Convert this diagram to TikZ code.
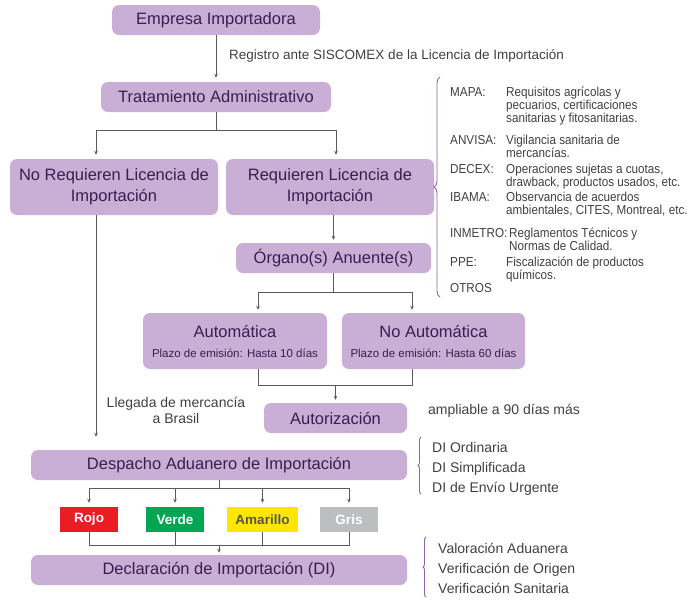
\documentclass[tikz,border=0pt]{standalone}
\usepackage{fontspec}
\setmainfont{Liberation Sans}
\newfontfamily\condf[FakeStretch=0.9]{Liberation Sans}
\usetikzlibrary{arrows.meta,decorations.pathreplacing,calc}
\definecolor{boxc}{RGB}{201,174,213}
\definecolor{boxt}{RGB}{58,30,78}
\definecolor{linec}{RGB}{90,90,90}
\definecolor{labt}{RGB}{64,64,64}
\definecolor{bracec}{RGB}{140,100,165}
\definecolor{rojo}{RGB}{237,28,36}
\definecolor{verde}{RGB}{0,166,81}
\definecolor{amar}{RGB}{255,230,0}
\definecolor{gris}{RGB}{188,190,192}
\definecolor{amart}{RGB}{85,85,85}
\tikzset{
 box/.style={rounded corners=7pt, fill=boxc, text=boxt, font=\fontsize{16.5}{21}\selectfont, align=center, inner sep=0pt},
 sem/.style={text=white, font=\fontsize{13.5}{16}\selectfont\bfseries, minimum width=58pt, minimum height=25pt, inner sep=0pt},
 ln/.style={draw=linec, line width=0.8pt},
 arr/.style={ln, -{Stealth[length=4pt,width=3.5pt]}},
 lab/.style={text=labt, font=\fontsize{13.5}{16}\selectfont, inner sep=0pt},
 side/.style={text=labt, font=\fontsize{14}{16}\selectfont, inner sep=0pt, anchor=base west},
 lst/.style={text=labt, font=\condf\fontsize{13}{13}\selectfont, inner sep=0pt, anchor=base west, align=left},
 brc/.style={draw=bracec, line width=0.9pt, decorate, decoration={brace, amplitude=6pt}},
 sbrc/.style={draw=bracec, line width=0.9pt, decorate, decoration={brace, amplitude=3pt}},
}
\begin{document}
\begin{tikzpicture}[x=1pt,y=-1pt]
\useasboundingbox (0,0) rectangle (699,600);
% main boxes
\node[box, minimum width=208pt, minimum height=30pt] (emp) at (216,20) {Empresa Importadora};
\node[box, minimum width=230pt, minimum height=30pt] (trat) at (216,97) {Tratamiento Administrativo};
\node[box, minimum width=208pt, minimum height=56pt] (noreq) at (114,187) {No Requieren Licencia de\\Importación};
\node[box, minimum width=208pt, minimum height=56pt] (req) at (330,187) {Requieren Licencia de\\Importación};
\node[box, minimum width=195pt, minimum height=30pt] (org) at (333.5,258) {Órgano(s) Anuente(s)};
\node[box, minimum width=184pt, minimum height=56pt] (auto) at (235,341) {Automática\\[-1pt]{\fontsize{11.5}{14}\selectfont Plazo de emisión: Hasta 10 días}};
\node[box, minimum width=183pt, minimum height=56pt] (noauto) at (433.5,341) {No Automática\\[-1pt]{\fontsize{11.5}{14}\selectfont Plazo de emisión: Hasta 60 días}};
\node[box, minimum width=143pt, minimum height=30pt] (autz) at (335.5,418) {Autorización};
\node[box, minimum width=376pt, minimum height=30pt] (desp) at (219,465) {Despacho Aduanero de Importación};
\node[box, minimum width=376pt, minimum height=30pt] (decl) at (219,570) {Declaración de Importación (DI)};
% semaphore boxes
\node[sem, fill=rojo] (rojo) at (89,519.5) {Rojo};
\node[sem, fill=verde] (verde) at (175,519.5) {Verde};
\node[sem, fill=amar, text=amart, minimum width=71pt] (amar) at (262.5,519.5) {Amarillo};
\node[sem, fill=gris] (gris) at (349,519.5) {Gris};
% connectors
\draw[arr, shorten >=4pt] (emp) -- (trat);
\coordinate (j1) at (216,130);
\draw[ln] (trat) -- (j1);
\draw[arr, shorten >=4pt] (j1) -| ([xshift=-18pt]noreq.north);
\draw[arr, shorten >=4pt] (j1) -| ([xshift=6pt]req.north);
\coordinate (nrb) at ([xshift=-18pt]noreq.south);
\draw[arr, shorten >=13pt] (nrb) -- (nrb |- desp.north);
\coordinate (rqb) at ([xshift=3.5pt]req.south);
\draw[arr, shorten >=3pt] (rqb) -- (rqb |- org.north);
\coordinate (j2) at (333.5,292);
\draw[ln] (org) -- (j2);
\draw[arr, shorten >=3pt] (j2) -| ([xshift=23pt]auto.north);
\draw[arr, shorten >=3pt] (j2) -| ([xshift=-21.5pt]noauto.north);
\coordinate (a1) at ([xshift=23pt]auto.south);
\coordinate (a2) at ([xshift=-21.5pt]noauto.south);
\draw[ln] (a1) -- ++(0,16) -| (a2);
\coordinate (j3) at (335.5,385);
\draw[arr, shorten >=3pt] (j3) -- (autz);
\coordinate (j4) at (219,488);
\draw[ln] (desp) -- (j4);
\draw[arr, shorten >=4pt] (j4) -| (rojo);
\draw[arr, shorten >=4pt] (j4) -| (verde);
\draw[arr, shorten >=4pt] (j4) -| (amar);
\draw[arr, shorten >=4pt] (j4) -| (gris);
\draw[ln] (rojo.south) -- ++(0,13) -| (gris.south);
\draw[ln] (verde.south) -- ++(0,13);
\draw[ln] (amar.south) -- ++(0,13);
\coordinate (j5) at (219,545);
\draw[arr, shorten >=2pt] (j5) -- (decl);
% labels
\node[lab, anchor=west] (reg) at (229,56) {Registro ante SISCOMEX de la Licencia de Importación};
\node[lab, align=center, font=\fontsize{14}{16}\selectfont] (lleg) at (176,410) {Llegada de mercancía\\a Brasil};
\node[lab, anchor=west, font=\fontsize{14}{16}\selectfont] (amp) at (428,411) {ampliable a 90 días más};
% big brace and list (base = baseline of last line)
\draw[brc] (440,297) -- (440,77);
\node[lst] (l1) at (450,96.5) {MAPA:};
\node[lst] (d1) at (506,122.5) {Requisitos agrícolas y\\pecuarios, certificaciones\\sanitarias y fitosanitarias.};
\node[lst] (l2) at (450,144) {ANVISA:};
\node[lst] (d2) at (506,157) {Vigilancia sanitaria de\\mercancías.};
\node[lst] (l3) at (450,173) {DECEX:};
\node[lst] (d3) at (506,186) {Operaciones sujetas a cuotas,\\drawback, productos usados, etc.};
\node[lst] (l4) at (450,201.5) {IBAMA:};
\node[lst] (d4) at (506,214.5) {Observancia de acuerdos\\ambientales, CITES, Montreal, etc.};
\node[lst] (l5) at (450,237.5) {INMETRO:};
\node[lst] (d5) at (509,250.5) {Reglamentos Técnicos y\\Normas de Calidad.};
\node[lst] (l6) at (450,266) {PPE:};
\node[lst] (d6) at (506,279) {Fiscalización de productos\\químicos.};
\node[lst] (l7) at (450,292.5) {OTROS};
% DI types
\draw[sbrc] (421,494) -- (421,437);
\node[side] (di1) at (432,452) {DI Ordinaria};
\node[side] (di2) at (432,472) {DI Simplificada};
\node[side] (di3) at (432,492) {DI de Envío Urgente};
% verification
\draw[sbrc] (426,597) -- (426,537);
\node[side] (v1) at (438,553) {Valoración Aduanera};
\node[side] (v2) at (438,573) {Verificación de Origen};
\node[side] (v3) at (438,593) {Verificación Sanitaria};
\end{tikzpicture}
\end{document}
